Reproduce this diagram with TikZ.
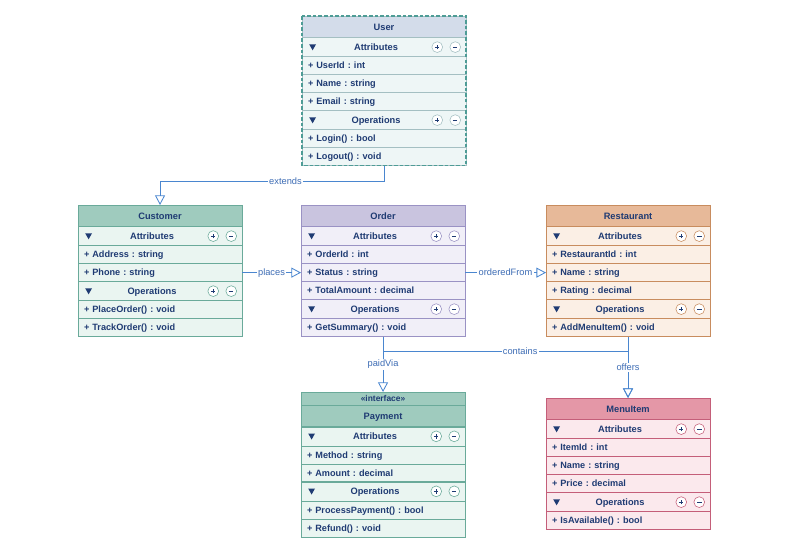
\documentclass[tikz,border=0pt]{standalone}
\usepackage{fontspec}
\setmainfont{Liberation Sans}
\frenchspacing
\usetikzlibrary{arrows.meta,positioning}

\definecolor{navy}{HTML}{1F3B73}
\definecolor{linkblue}{HTML}{4A86CF}
\definecolor{labelblue}{HTML}{3E6DB5}
% one set of colours per class
\definecolor{usrhead}{HTML}{D3DCEA}\definecolor{usrbody}{HTML}{EEF6F6}\definecolor{usrline}{HTML}{A4BFC2}
\definecolor{usredge}{HTML}{4E9C96}
\definecolor{cushead}{HTML}{9FCBBE}\definecolor{cusbody}{HTML}{EAF5F1}\definecolor{cusline}{HTML}{6AAA9A}
\definecolor{ordhead}{HTML}{C9C4DF}\definecolor{ordbody}{HTML}{F1EFF8}\definecolor{ordline}{HTML}{9A92C4}
\definecolor{rsthead}{HTML}{E7B999}\definecolor{rstbody}{HTML}{FBEFE5}\definecolor{rstline}{HTML}{C88C5E}
\definecolor{payhead}{HTML}{9FCBBE}\definecolor{paybody}{HTML}{EAF5F1}\definecolor{payline}{HTML}{6AAA9A}
\definecolor{mnuhead}{HTML}{E497A7}\definecolor{mnubody}{HTML}{FBE9ED}\definecolor{mnuline}{HTML}{C45E79}

\begin{document}
\begin{tikzpicture}[
    x=0.025cm, y=-0.025cm,
    head/.style={draw=#1line, fill=#1head, text=navy, font=\fontsize{6.6}{8}\selectfont\bfseries,
        minimum width=4.1cm, minimum height=0.54cm, inner sep=0pt, outer sep=0pt,
        text height=4.8pt, text depth=0.2pt},
    sect/.style={head=#1, fill=#1body, minimum height=0.475cm, execute at end node=\hspace{0.4cm}},
    member/.style={draw=#1line, fill=#1body, text=navy, font=\fontsize{6.5}{8}\selectfont\bfseries,
        text width=3.8cm, align=left, inner xsep=0.15cm, inner ysep=0pt, minimum height=0.45cm, outer sep=0pt,
        text height=4.8pt, text depth=0.2pt},
    tog/.style={circle, draw=#1line, fill=white, minimum size=0.27cm, inner sep=0pt},
    link/.style={draw=linkblue, line width=0.6pt},
    hollow/.style={-{Triangle[open, length=2.4mm, width=2.5mm]}},
    linklabel/.style={fill=white, text=labelblue, font=\fontsize{6.6}{8}\selectfont, inner sep=1pt}
]
\useasboundingbox (0,0) rectangle (800,552);

% User
\node[head=usr, anchor=north west] (usr-h) at (302,16) {User};
\node[sect=usr, below=0pt of usr-h] (usr-a) {Attributes};
\node[member=usr, below=0pt of usr-a] (usr-1) {+ UserId : int};
\node[member=usr, below=0pt of usr-1] (usr-2) {+ Name : string};
\node[member=usr, below=0pt of usr-2] (usr-3) {+ Email : string};
\node[sect=usr, below=0pt of usr-3] (usr-o) {Operations};
\node[member=usr, below=0pt of usr-o] (usr-4) {+ Login() : bool};
\node[member=usr, below=0pt of usr-4] (usr-5) {+ Logout() : void};

% Customer
\node[head=cus, anchor=north west] (cus-h) at (78,205) {Customer};
\node[sect=cus, below=0pt of cus-h] (cus-a) {Attributes};
\node[member=cus, below=0pt of cus-a] (cus-1) {+ Address : string};
\node[member=cus, below=0pt of cus-1] (cus-2) {+ Phone : string};
\node[sect=cus, below=0pt of cus-2] (cus-o) {Operations};
\node[member=cus, below=0pt of cus-o] (cus-3) {+ PlaceOrder() : void};
\node[member=cus, below=0pt of cus-3] (cus-4) {+ TrackOrder() : void};

% Order
\node[head=ord, anchor=north west] (ord-h) at (301,205) {Order};
\node[sect=ord, below=0pt of ord-h] (ord-a) {Attributes};
\node[member=ord, below=0pt of ord-a] (ord-1) {+ OrderId : int};
\node[member=ord, below=0pt of ord-1] (ord-2) {+ Status : string};
\node[member=ord, below=0pt of ord-2] (ord-3) {+ TotalAmount : decimal};
\node[sect=ord, below=0pt of ord-3] (ord-o) {Operations};
\node[member=ord, below=0pt of ord-o] (ord-4) {+ GetSummary() : void};

% Restaurant
\node[head=rst, anchor=north west] (rst-h) at (546,205) {Restaurant};
\node[sect=rst, below=0pt of rst-h] (rst-a) {Attributes};
\node[member=rst, below=0pt of rst-a] (rst-1) {+ RestaurantId : int};
\node[member=rst, below=0pt of rst-1] (rst-2) {+ Name : string};
\node[member=rst, below=0pt of rst-2] (rst-3) {+ Rating : decimal};
\node[sect=rst, below=0pt of rst-3] (rst-o) {Operations};
\node[member=rst, below=0pt of rst-o] (rst-4) {+ AddMenuItem() : void};

% Payment
\node[head=pay, anchor=north west, minimum height=0.33cm, font=\fontsize{6}{7}\selectfont\bfseries] (pay-i) at (301,392) {«interface»};
\node[head=pay, below=0pt of pay-i] (pay-h) {Payment};
\node[sect=pay, below=0pt of pay-h] (pay-a) {Attributes};
\node[member=pay, below=0pt of pay-a] (pay-1) {+ Method : string};
\node[member=pay, below=0pt of pay-1] (pay-2) {+ Amount : decimal};
\node[sect=pay, below=0pt of pay-2] (pay-o) {Operations};
\node[member=pay, below=0pt of pay-o] (pay-3) {+ ProcessPayment() : bool};
\node[member=pay, below=0pt of pay-3] (pay-4) {+ Refund() : void};

% MenuItem
\node[head=mnu, anchor=north west] (mnu-h) at (546,398) {MenuItem};
\node[sect=mnu, below=0pt of mnu-h] (mnu-a) {Attributes};
\node[member=mnu, below=0pt of mnu-a] (mnu-1) {+ ItemId : int};
\node[member=mnu, below=0pt of mnu-1] (mnu-2) {+ Name : string};
\node[member=mnu, below=0pt of mnu-2] (mnu-3) {+ Price : decimal};
\node[sect=mnu, below=0pt of mnu-3] (mnu-o) {Operations};
\node[member=mnu, below=0pt of mnu-o] (mnu-4) {+ IsAvailable() : bool};

% section markers and toggles
\foreach \s/\c in {usr-a/usr, usr-o/usr, cus-a/cus, cus-o/cus, ord-a/ord, ord-o/ord,
                   rst-a/rst, rst-o/rst, pay-a/pay, pay-o/pay, mnu-a/mnu, mnu-o/mnu} {
  \draw[draw=\c line, line width=1pt] (\s.north west) -- (\s.north east);
  \fill[navy] ([xshift=0.18cm, yshift=0.07cm]\s.west) -- ++(0.17cm,0) -- ++(-0.085cm,-0.15cm) -- cycle;
  \node[tog=\c] (\s-plus) at ([xshift=-0.72cm]\s.east) {};
  \node[tog=\c] (\s-minus) at ([xshift=-0.27cm]\s.east) {};
  \draw[navy, line width=0.6pt] ([xshift=-1.6pt]\s-plus.center) -- ([xshift=1.6pt]\s-plus.center)
                                ([yshift=-1.6pt]\s-plus.center) -- ([yshift=1.6pt]\s-plus.center)
                                ([xshift=-1.6pt]\s-minus.center) -- ([xshift=1.6pt]\s-minus.center);
}

% dashed outline of User
\draw[usredge, line width=0.8pt, dash pattern=on 2.5pt off 1.5pt] (usr-h.north west) rectangle (usr-5.south east);

% relations
\draw[link, hollow] (usr-5.south) -- ++(0,16) -| node[linklabel, pos=0.22] {extends} (cus-h.north);
\draw[link, hollow] (cus-2.east) -- node[linklabel] {places} (ord-2.west);
\draw[link, hollow] (ord-2.east) -- node[linklabel] {orderedFrom} (rst-2.west);
\draw[link, hollow] (ord-4.south) -- node[linklabel] {paidVia} (pay-i.north);
\draw[link, hollow] (ord-4.south) -- ++(0,15) -| node[linklabel, pos=0.28] {contains} (mnu-h.north);
\draw[link, hollow] (rst-4.south) -- node[linklabel] {offers} (mnu-h.north);

\end{tikzpicture}
\end{document}
